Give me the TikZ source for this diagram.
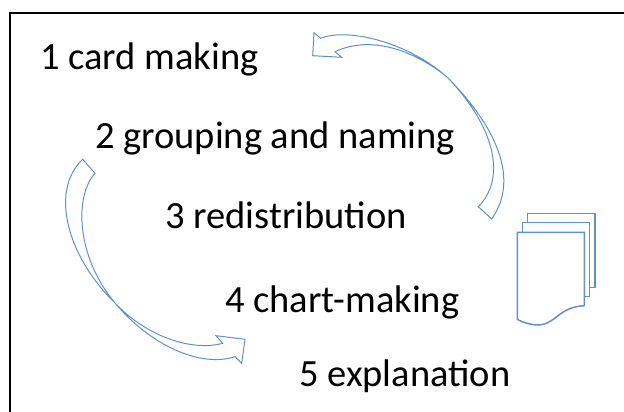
\documentclass[tikz,border=0pt]{standalone}
\usepackage{fontspec}
\setmainfont{Carlito}
\begin{document}
\begin{tikzpicture}[x=1pt, y=-1pt]
%styles
\tikzstyle{stepline}=[rectangle, text=black, font=\fontsize{38.5}{44}\selectfont, anchor=base west, inner sep=0pt]
\tikzstyle{arrowline}=[draw={rgb,255:red,94;green,146;blue,201}, line width=1pt, line join=miter]
\tikzstyle{pageline}=[draw={rgb,255:red,94;green,146;blue,201}, line width=1.5pt, fill=white, line join=miter]
\useasboundingbox (0,0) rectangle (624,412);

%frame
\draw[line width=2.5pt] (10,412) -- (10,13) -- (624,13);

%upper arrow
\draw[arrowline] (478.3,206.7) .. controls (505,180) and (498,130) .. (447,77)
  .. controls (420,55) and (375,33) .. (335,51.7) -- (341.7,57.3) -- (312.7,55.7) -- (314,32.7) -- (320.7,38.3)
  .. controls (345,28) and (405,40) .. (447,77)
  .. controls (480,110) and (526,170) .. (491.7,219) -- cycle;

%lower arrow
\draw[arrowline] (95,173.3) .. controls (75,195) and (75,255) .. (115,303)
  .. controls (145,335) and (190,352) .. (222.7,343.3) -- (216,335.7) -- (245,339.3) -- (241.7,363.3) -- (235,356.7)
  .. controls (200,368) and (150,345) .. (115,303)
  .. controls (66,255) and (50,190) .. (82.7,159.3) -- cycle;

%pages
\draw[pageline] (527.7,213.3) -- (595,213.3) -- (595,287.3) -- (527.7,287.3) -- cycle;
\draw[pageline] (522.7,222.7) -- (589.7,222.7) -- (589.7,296.7) -- (522.7,296.7) -- cycle;
\draw[pageline] (517.3,232.3) -- (584.3,232.3) -- (584.3,305.7)
  .. controls (555,307) and (555,330) .. (530,324) .. controls (525,323) and (520,321) .. (517.3,319.3) -- cycle;

%texts
\node[stepline] (card) at (40,70) {1 card making};
\node[stepline] (group) at (95,148) {2 grouping and naming};
\node[stepline] (redis) at (165,228) {3 redistribution};
\node[stepline] (chart) at (225,312) {4 chart-making};
\node[stepline] (expl) at (299,386) {5 explanation};
\end{tikzpicture}
\end{document}
